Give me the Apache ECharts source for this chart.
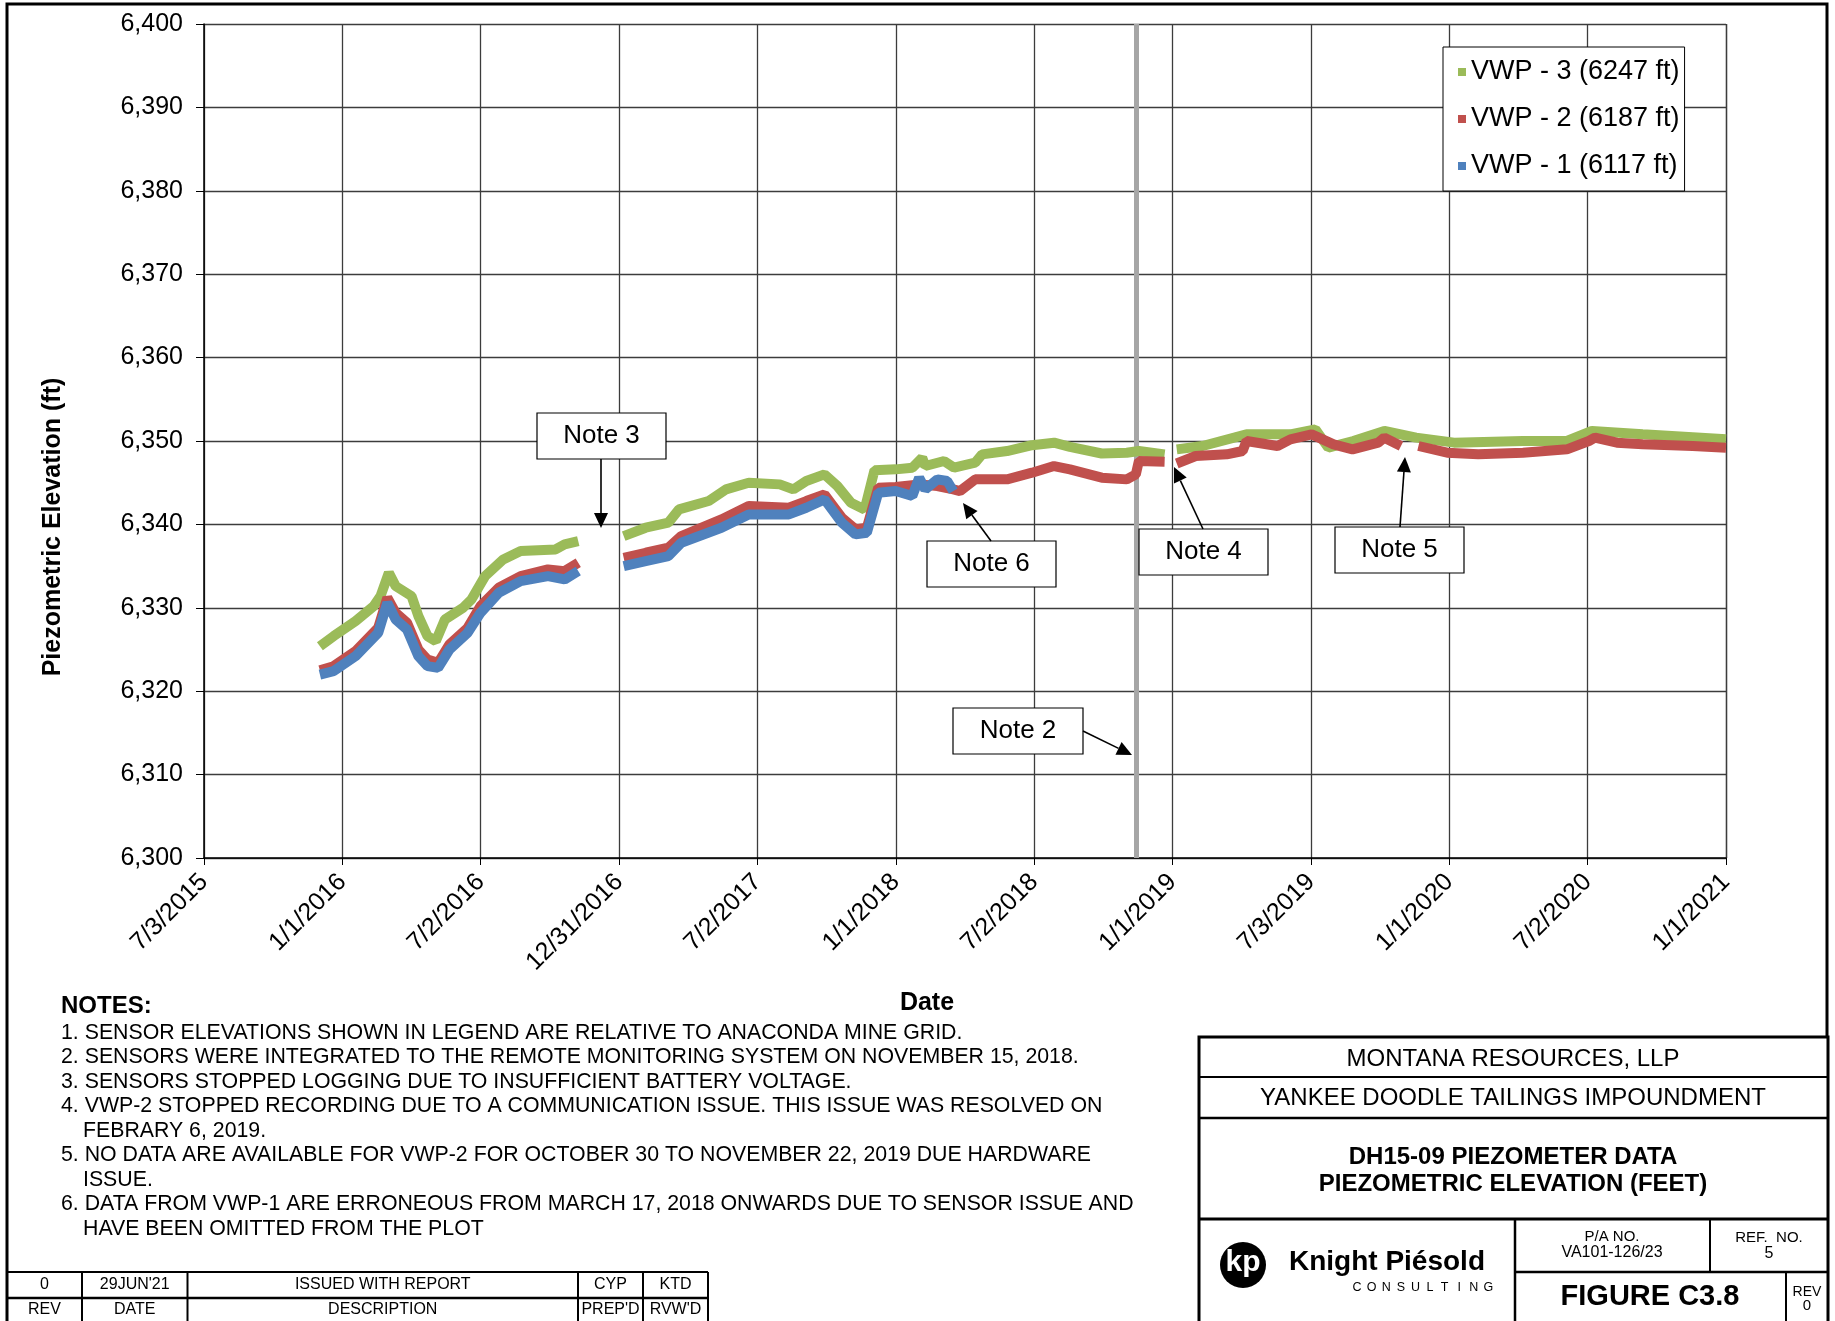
<!DOCTYPE html>
<html>
<head>
<meta charset="utf-8">
<script src="https://cdn.jsdelivr.net/npm/echarts@6/dist/echarts.min.js"></script>
<style>
  html, body { margin: 0; padding: 0; background: #fff; }
  #chart { width: 1835px; height: 1321px; }
</style>
</head>
<body>
<div id="chart"></div>
<script>
// DH15-09 piezometer data - piezometric elevation (ft)
const FONT = '"Liberation Sans", Arial, sans-serif';

// x axis goes 7/3/2015 -> 1/1/2021 in 11 equal steps (like the Excel chart)
const axisStart = '2015-07-03';
const axisEnd = '2021-01-01';
const axisSteps = 11;

const seriesNames = ['VWP - 3 (6247 ft)', 'VWP - 2 (6187 ft)', 'VWP - 1 (6117 ft)'];
const seriesColors = ['#9BBB59', '#C0504D', '#4F81BD'];

// null = no data (gaps, see notes 3, 4, 5)
const vwp3 = [
    ['2015-12-03', 6325.4], ['2015-12-21', 6326.6], ['2016-01-19', 6328.4], ['2016-02-12', 6330.2],
    ['2016-02-21', 6331.4], ['2016-03-03', 6334.2], ['2016-03-12', 6332.6], ['2016-04-02', 6331.4],
    ['2016-04-11', 6329.0], ['2016-04-23', 6326.6], ['2016-05-04', 6326.0], ['2016-05-16', 6328.6],
    ['2016-06-09', 6330.0], ['2016-06-20', 6331.0], ['2016-07-08', 6333.8], ['2016-08-01', 6335.8],
    ['2016-08-24', 6336.8], ['2016-10-09', 6337.0], ['2016-10-21', 6337.6], ['2016-11-08', 6338.0],
    ['2016-12-07', null],
    ['2017-01-07', 6338.6], ['2017-02-05', 6339.6], ['2017-03-07', 6340.2], ['2017-03-21', 6341.8],
    ['2017-04-29', 6342.8], ['2017-05-22', 6344.2], ['2017-06-21', 6345.0], ['2017-08-01', 6344.8],
    ['2017-08-19', 6344.2], ['2017-09-05', 6345.2], ['2017-09-29', 6346.0], ['2017-10-16', 6344.6],
    ['2017-11-03', 6342.6], ['2017-11-21', 6341.8], ['2017-12-04', 6346.5], ['2018-01-01', 6346.6],
    ['2018-01-23', 6346.8], ['2018-02-05', 6348.0], ['2018-02-09', 6347.0], ['2018-03-06', 6347.6],
    ['2018-03-19', 6346.8], ['2018-04-16', 6347.4], ['2018-04-25', 6348.4], ['2018-05-28', 6348.8],
    ['2018-06-30', 6349.5], ['2018-07-29', 6349.8], ['2018-08-19', 6349.3], ['2018-09-30', 6348.5],
    ['2018-11-02', 6348.6], ['2018-11-18', 6348.8], ['2018-12-22', 6348.4],
    ['2018-12-29', null],
    ['2019-01-07', 6349.0], ['2019-02-10', 6349.4], ['2019-04-09', 6350.8], ['2019-06-06', 6350.8],
    ['2019-07-09', 6351.4], ['2019-07-26', 6349.2], ['2019-08-28', 6350.0], ['2019-10-08', 6351.2],
    ['2019-11-19', 6350.4], ['2020-01-08', 6349.8], ['2020-04-08', 6350.0], ['2020-06-05', 6350.0],
    ['2020-07-08', 6351.2], ['2020-09-13', 6350.8], ['2021-01-01', 6350.2]
];

const vwp2 = [
    ['2015-12-03', 6322.5], ['2015-12-21', 6323.0], ['2016-01-19', 6324.8], ['2016-02-18', 6327.6],
    ['2016-03-01', 6331.2], ['2016-03-12', 6329.4], ['2016-03-27', 6328.2], ['2016-04-11', 6325.0],
    ['2016-04-23', 6323.8], ['2016-05-07', 6323.4], ['2016-05-22', 6325.6], ['2016-06-15', 6327.6],
    ['2016-07-02', 6330.2], ['2016-07-26', 6332.4], ['2016-08-24', 6333.8], ['2016-09-29', 6334.6],
    ['2016-10-21', 6334.4], ['2016-11-08', 6335.4],
    ['2016-12-07', null],
    ['2017-01-07', 6336.0], ['2017-02-05', 6336.6], ['2017-03-07', 6337.2], ['2017-03-24', 6338.6],
    ['2017-05-16', 6340.6], ['2017-06-21', 6342.2], ['2017-08-13', 6342.0], ['2017-09-05', 6342.8],
    ['2017-09-29', 6343.6], ['2017-10-22', 6340.8], ['2017-11-09', 6339.4], ['2017-11-24', 6339.6],
    ['2017-12-09', 6344.4], ['2018-01-01', 6344.5], ['2018-02-01', 6344.8], ['2018-02-25', 6344.6],
    ['2018-03-18', 6344.2], ['2018-03-27', 6344.0], ['2018-04-16', 6345.4], ['2018-05-28', 6345.4],
    ['2018-06-30', 6346.2], ['2018-07-29', 6347.0], ['2018-08-19', 6346.6], ['2018-09-30', 6345.6],
    ['2018-11-02', 6345.4], ['2018-11-14', 6346.0], ['2018-11-18', 6347.6], ['2018-12-22', 6347.5],
    ['2018-12-29', null],
    ['2019-01-07', 6347.3], ['2019-02-01', 6348.2], ['2019-03-14', 6348.4], ['2019-04-04', 6348.8],
    ['2019-04-09', 6350.0], ['2019-05-20', 6349.4], ['2019-06-06', 6350.2], ['2019-07-04', 6350.8],
    ['2019-08-02', 6349.6], ['2019-08-27', 6349.0], ['2019-09-30', 6349.8], ['2019-10-08', 6350.4],
    ['2019-10-30', 6349.4],
    ['2019-11-10', null],
    ['2019-11-22', 6349.4], ['2019-12-30', 6348.6], ['2020-02-09', 6348.4], ['2020-04-08', 6348.6],
    ['2020-06-05', 6349.0], ['2020-07-04', 6350.0], ['2020-07-12', 6350.4], ['2020-08-10', 6349.8],
    ['2020-09-13', 6349.6], ['2020-11-18', 6349.4], ['2021-01-01', 6349.2]
];

const vwp1 = [
    ['2015-12-03', 6322.0], ['2015-12-21', 6322.4], ['2016-01-19', 6324.2], ['2016-02-18', 6327.0],
    ['2016-03-01', 6330.6], ['2016-03-12', 6328.6], ['2016-03-27', 6327.4], ['2016-04-11', 6324.2],
    ['2016-04-23', 6323.0], ['2016-05-07', 6322.8], ['2016-05-22', 6325.0], ['2016-06-15', 6327.0],
    ['2016-07-02', 6329.4], ['2016-07-26', 6331.8], ['2016-08-24', 6333.2], ['2016-09-29', 6333.8],
    ['2016-10-21', 6333.4], ['2016-11-08', 6334.4],
    ['2016-12-07', null],
    ['2017-01-07', 6335.0], ['2017-02-05', 6335.6], ['2017-03-07', 6336.2], ['2017-03-24', 6337.8],
    ['2017-05-16', 6339.6], ['2017-06-21', 6341.2], ['2017-08-13', 6341.2], ['2017-09-05', 6342.0],
    ['2017-09-29', 6343.0], ['2017-10-22', 6340.2], ['2017-11-09', 6338.8], ['2017-11-24', 6339.0],
    ['2017-12-09', 6343.8], ['2018-01-01', 6344.0], ['2018-01-23', 6343.4], ['2018-02-01', 6345.6],
    ['2018-02-09', 6344.2], ['2018-02-25', 6345.4], ['2018-03-10', 6345.2], ['2018-03-18', 6344.0]
];

const note2Date = '2018-11-15';

const notesLines = [
    [0, '1. SENSOR ELEVATIONS SHOWN IN LEGEND ARE RELATIVE TO ANACONDA MINE GRID.'],
    [0, '2. SENSORS WERE INTEGRATED TO THE REMOTE MONITORING SYSTEM ON NOVEMBER 15, 2018.'],
    [0, '3. SENSORS STOPPED LOGGING DUE TO INSUFFICIENT BATTERY VOLTAGE.'],
    [0, '4. VWP-2 STOPPED RECORDING DUE TO A COMMUNICATION ISSUE. THIS ISSUE WAS RESOLVED ON'],
    [1, 'FEBRARY 6, 2019.'],
    [0, '5. NO DATA ARE AVAILABLE FOR VWP-2 FOR OCTOBER 30 TO NOVEMBER 22, 2019 DUE HARDWARE'],
    [1, 'ISSUE.'],
    [0, '6. DATA FROM VWP-1 ARE ERRONEOUS FROM MARCH 17, 2018 ONWARDS DUE TO SENSOR ISSUE AND'],
    [1, 'HAVE BEEN OMITTED FROM THE PLOT']
];

// callout boxes: label, box [x, y, w, h], arrow [x1, y1, x2, y2]
const callouts = [
    ['Note 3', [537, 413, 129, 46], [601, 459, 601, 528]],
    ['Note 6', [927, 541, 129, 46], [991, 541, 963, 503]],
    ['Note 4', [1139, 529, 129, 46], [1203, 529, 1174, 467]],
    ['Note 5', [1335, 527, 129, 46], [1400, 527, 1405, 457]],
    ['Note 2', [953, 708, 130, 46], [1083, 731, 1132, 755]]
];

const revRow = ['0', "29JUN'21", 'ISSUED WITH REPORT', 'CYP', 'KTD'];
const revHead = ['REV', 'DATE', 'DESCRIPTION', "PREP'D", "RVW'D"];

// ---------- helpers ----------
const DAY = 86400000;
const t0 = Date.UTC(2015, 6, 3);
function dayOf(s) {
    const p = s.split('-').map(Number);
    return (Date.UTC(p[0], p[1] - 1, p[2]) - t0) / DAY;
}
function fmtDay(v) {
    const dt = new Date(t0 + Math.floor(v + 1e-6) * DAY);
    return (dt.getUTCMonth() + 1) + '/' + dt.getUTCDate() + '/' + dt.getUTCFullYear();
}
function toData(arr) {
    return arr.map(p => [dayOf(p[0]), p[1] == null ? '-' : p[1]]);
}

function txt(x, y, text, size, opts) {
    opts = opts || {};
    return {
        type: 'text', x: x, y: y, z: 100, rotation: opts.rotation || 0,
        style: {
            text: text, fill: '#000', fontFamily: FONT, fontSize: size,
            fontWeight: opts.bold ? 'bold' : 'normal',
            align: opts.align || 'center', verticalAlign: 'middle'
        }
    };
}
function ln(x1, y1, x2, y2, w) {
    return { type: 'line', z: 100, shape: { x1, y1, x2, y2 }, style: { stroke: '#000', lineWidth: w || 2 } };
}
function arrow(x1, y1, x2, y2) {
    const a = Math.atan2(y2 - y1, x2 - x1), L = 15, W = 7;
    const bx = x2 - L * Math.cos(a), by = y2 - L * Math.sin(a);
    const px = -Math.sin(a) * W, py = Math.cos(a) * W;
    return [
        { type: 'line', z: 100, shape: { x1, y1, x2: bx, y2: by }, style: { stroke: '#000', lineWidth: 1.6 } },
        { type: 'polygon', z: 100, shape: { points: [[x2, y2], [bx + px, by + py], [bx - px, by - py]] }, style: { fill: '#000' } }
    ];
}

// ---------- graphics (notes, frame, title block) ----------
const graphics = [];

// outer drawing frame
graphics.push({ type: 'rect', z: 90, shape: { x: 7, y: 4, width: 1820, height: 1340 }, style: { fill: 'none', stroke: '#000', lineWidth: 3 } });

// axis titles
graphics.push(txt(53, 527, 'Piezometric Elevation (ft)', 25, { bold: true, rotation: Math.PI / 2 }));
graphics.push(txt(927, 1003, 'Date', 25, { bold: true }));

// callouts
callouts.forEach(c => {
    const b = c[1];
    graphics.push({ type: 'rect', z: 100, shape: { x: b[0], y: b[1], width: b[2], height: b[3] }, style: { fill: '#fff', stroke: '#000', lineWidth: 1.2 } });
    graphics.push(txt(b[0] + b[2] / 2, b[1] + b[3] / 2, c[0], 26));
    arrow.apply(null, c[2]).forEach(g => graphics.push(g));
});

// notes
graphics.push(txt(61, 1006, 'NOTES:', 24, { bold: true, align: 'left' }));
notesLines.forEach((l, i) => {
    graphics.push(txt(l[0] ? 83 : 61, 1033 + i * 24.5, l[1], 21.3, { align: 'left' }));
});

// revision table
const revCols = [7, 82, 187.5, 578, 643, 708];
graphics.push(ln(7, 1272, 708, 1272, 2));
graphics.push(ln(7, 1298, 708, 1298, 2.5));
revCols.slice(1).forEach(x => graphics.push(ln(x, 1272, x, 1321, 2)));
revRow.forEach((t, i) => graphics.push(txt((revCols[i] + revCols[i + 1]) / 2, 1285, t, 16)));
revHead.forEach((t, i) => graphics.push(txt((revCols[i] + revCols[i + 1]) / 2, 1310, t, 16)));

// title block
graphics.push({ type: 'rect', z: 95, shape: { x: 1199, y: 1037, width: 629, height: 300 }, style: { fill: '#fff', stroke: '#000', lineWidth: 3 } });
graphics.push(ln(1199, 1077, 1828, 1077, 2));
graphics.push(ln(1199, 1118, 1828, 1118, 2.5));
graphics.push(ln(1199, 1219, 1828, 1219, 3));
graphics.push(ln(1515, 1219, 1515, 1321, 2.5));
graphics.push(ln(1515, 1272, 1828, 1272, 2.5));
graphics.push(ln(1710, 1219, 1710, 1272, 2));
graphics.push(ln(1786, 1272, 1786, 1321, 2));
graphics.push(txt(1513, 1059, 'MONTANA RESOURCES, LLP', 24));
graphics.push(txt(1513, 1098, 'YANKEE DOODLE TAILINGS IMPOUNDMENT', 24));
graphics.push(txt(1513, 1157, 'DH15-09 PIEZOMETER DATA', 24, { bold: true }));
graphics.push(txt(1513, 1184, 'PIEZOMETRIC ELEVATION (FEET)', 24, { bold: true }));
graphics.push(txt(1612, 1237, 'P/A NO.', 15));
graphics.push(txt(1612, 1253, 'VA101-126/23', 16));
graphics.push(txt(1769, 1238, 'REF.  NO.', 15));
graphics.push(txt(1769, 1254, '5', 16));
graphics.push(txt(1650, 1297, 'FIGURE C3.8', 29, { bold: true }));
graphics.push(txt(1807, 1292, 'REV', 14));
graphics.push(txt(1807, 1306, '0', 15));

// Knight Piesold logo
graphics.push({ type: 'circle', z: 100, shape: { cx: 1243, cy: 1265, r: 23 }, style: { fill: '#000' } });
graphics.push({ type: 'text', z: 101, x: 1243, y: 1263, style: { text: 'kp', fill: '#fff', fontFamily: FONT, fontSize: 30, fontWeight: 'bold', align: 'center', verticalAlign: 'middle' } });
graphics.push(txt(1289, 1262, 'Knight Piésold', 28, { bold: true, align: 'left' }));
'CONSULTING'.split('').forEach((ch, i) => graphics.push(txt(1357 + i * 14.6, 1288, ch, 12.5)));

// ---------- chart ----------
const chart = echarts.init(document.getElementById('chart'));
const xMax = dayOf(axisEnd) - dayOf(axisStart);

const lineSeries = [vwp3, vwp2, vwp1].map((arr, i) => ({
    name: seriesNames[i],
    type: 'line',
    data: toData(arr),
    showSymbol: false,
    symbol: 'rect',
    connectNulls: false,
    color: seriesColors[i],
    lineStyle: { color: seriesColors[i], width: 10 },
    z: 3 + i
}));

const option = {
    animation: false,
    backgroundColor: '#fff',
    grid: { left: 204, right: 109, top: 24, bottom: 463, containLabel: false },
    legend: {
        data: seriesNames,
        orient: 'vertical',
        left: 1443, top: 47,
        padding: [10, 5, 10, 15],
        itemWidth: 8, itemHeight: 8, itemGap: 17,
        icon: 'rect',
        borderColor: '#000', borderWidth: 1,
        backgroundColor: '#fff',
        textStyle: { fontFamily: FONT, fontSize: 27, lineHeight: 30, color: '#000' }
    },
    xAxis: {
        type: 'value',
        min: 0, max: xMax, interval: xMax / axisSteps,
        axisLine: { show: true, lineStyle: { color: '#000', width: 1.5 } },
        axisTick: { show: true, inside: false, length: 7, lineStyle: { color: '#000' } },
        axisLabel: {
            rotate: 45, margin: 20, formatter: fmtDay,
            fontFamily: FONT, fontSize: 25, color: '#000'
        },
        splitLine: { show: true, lineStyle: { color: '#3c3c3c', width: 1.3 } }
    },
    yAxis: {
        type: 'value',
        min: 6300, max: 6400, interval: 10,
        axisLine: { show: true, lineStyle: { color: '#000', width: 1.5 } },
        axisTick: { show: true, inside: false, length: 8, lineStyle: { color: '#000' } },
        axisLabel: {
            margin: 21, fontFamily: FONT, fontSize: 25, color: '#000',
            formatter: v => v.toLocaleString('en-US')
        },
        splitLine: { show: true, lineStyle: { color: '#3c3c3c', width: 1.3 } }
    },
    series: [{
        name: 'note2',
        type: 'line',
        data: [],
        z: 1,
        markLine: {
            silent: true, symbol: 'none', z: 1,
            label: { show: false },
            lineStyle: { color: '#A6A6A6', width: 5, type: 'solid' },
            data: [{ xAxis: dayOf(note2Date) }]
        }
    }].concat(lineSeries),
    graphic: { elements: graphics }
};

chart.setOption(option);

window.addEventListener('resize', () => {
    chart.resize();
});
</script>
</body>
</html>
